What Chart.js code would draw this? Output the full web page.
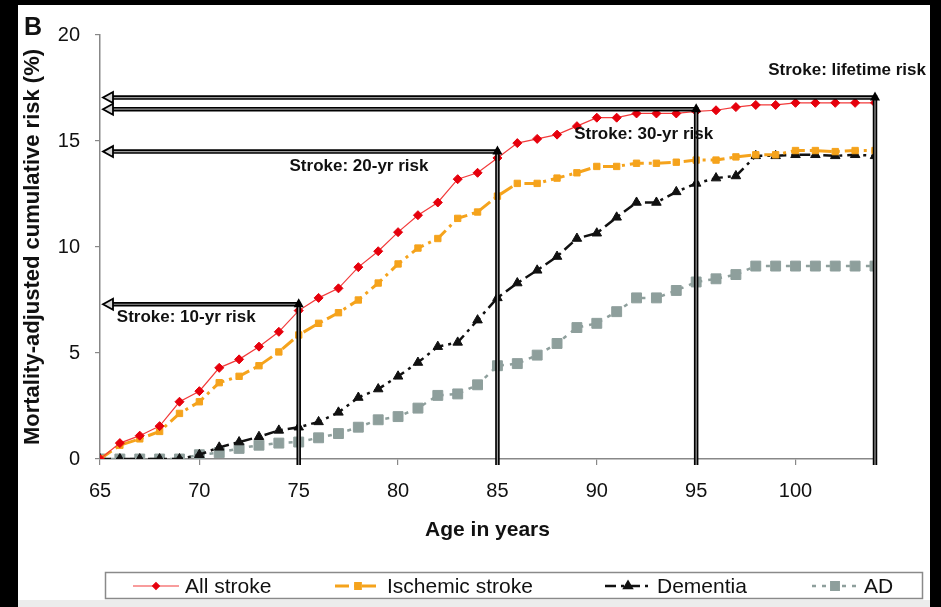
<!DOCTYPE html>
<html>
<head>
<meta charset="utf-8">
<script src="https://cdn.jsdelivr.net/npm/chart.js@4/dist/chart.umd.min.js"></script>
<style>
  html, body { margin: 0; padding: 0; background: #000; }
  canvas { display: block; }
</style>
</head>
<body>
<canvas id="chart" width="941" height="607"></canvas>
<script>
// ages 65..104
const ages = [65, 66, 67, 68, 69, 70, 71, 72, 73, 74, 75, 76, 77, 78, 79, 80, 81, 82, 83, 84,
              85, 86, 87, 88, 89, 90, 91, 92, 93, 94, 95, 96, 97, 98, 99, 100, 101, 102, 103, 104];

const allStroke = [0, 0.75, 1.1, 1.55, 2.7, 3.2, 4.3, 4.7, 5.3, 6.0, 7.0, 7.6, 8.05, 9.05, 9.8, 10.7, 11.5, 12.1, 13.2, 13.5,
                   14.2, 14.9, 15.1, 15.3, 15.7, 16.1, 16.1, 16.3, 16.3, 16.3, 16.4, 16.45, 16.6, 16.7, 16.7, 16.8, 16.8, 16.8, 16.8, 16.8];
const ischemic = [0, 0.65, 0.95, 1.3, 2.15, 2.7, 3.6, 3.9, 4.4, 5.05, 5.85, 6.4, 6.9, 7.5, 8.3, 9.2, 9.95, 10.4, 11.35, 11.65,
                  12.4, 13.0, 13.0, 13.25, 13.5, 13.8, 13.8, 13.95, 13.95, 14.0, 14.1, 14.1, 14.25, 14.35, 14.35, 14.55, 14.55, 14.5, 14.55, 14.55];
const dementia = [0, 0, 0, 0, 0, 0.2, 0.55, 0.8, 1.05, 1.35, 1.5, 1.75, 2.2, 2.9, 3.3, 3.9, 4.55, 5.3, 5.5, 6.55,
                  7.6, 8.3, 8.9, 9.55, 10.4, 10.65, 11.4, 12.1, 12.1, 12.6, 13.0, 13.25, 13.35, 14.3, 14.3, 14.35, 14.35, 14.3, 14.35, 14.3];
const ad = [0, 0, 0, 0, 0, 0.2, 0.3, 0.5, 0.65, 0.75, 0.8, 1.0, 1.2, 1.5, 1.85, 2.0, 2.4, 3.0, 3.07, 3.5,
            4.4, 4.5, 4.9, 5.45, 6.2, 6.4, 6.95, 7.6, 7.6, 7.95, 8.35, 8.5, 8.7, 9.1, 9.1, 9.1, 9.1, 9.1, 9.1, 9.1];

const seriesNames = ['All stroke', 'Ischemic stroke', 'Dementia', 'AD'];
const xTicks = [65, 70, 75, 80, 85, 90, 95, 100];
const yTicks = [0, 5, 10, 15, 20];

// stroke risk arrows: age where the arrow starts, risk it points at
const noteAges = [75, 85, 95, 104];
const noteRisks = [7.3, 14.5, 16.5, 17.05];
const noteLabels = ['Stroke: 10-yr risk', 'Stroke: 20-yr risk', 'Stroke: 30-yr risk', 'Stroke: lifetime risk'];

const FONT = "'Liberation Sans', Arial, sans-serif";
Chart.defaults.font.family = FONT;
Chart.defaults.color = '#111';

const pts = vals => ages.map((a, i) => ({ x: a, y: vals[i] }));

// black frame, white panel, panel letter
const frame = {
  id: 'frame',
  beforeDraw(chart) {
    const c = chart.ctx;
    c.save();
    c.fillStyle = '#000';
    c.fillRect(0, 0, chart.width, chart.height);
    c.fillStyle = '#fff';
    c.fillRect(18, 5, 912, 602);
    c.fillStyle = '#ececec';
    c.fillRect(18, 600, 912, 7);
    c.fillStyle = '#111';
    c.font = 'bold 25px ' + FONT;
    c.textBaseline = 'middle';
    c.fillText('B', 24, 28);
    c.restore();
  }
};

// label offsets from each arrow corner (right edge of text)
const noteOffsets = [[-43, 13], [-69, 15], [17, 25], [51, -27]];

const notes = {
  id: 'notes',
  afterDatasetsDraw(chart) {
    const { ctx, scales: { x, y } } = chart;
    const tip = x.getPixelForValue(65) + 3;
    const yBase = y.getPixelForValue(0) + 6;
    ctx.save();
    noteAges.forEach((age, i) => {
      const px = x.getPixelForValue(age);
      const py = y.getPixelForValue(noteRisks[i]);
      const path = () => {
        ctx.beginPath();
        ctx.moveTo(px, yBase);
        ctx.lineTo(px, py);
        ctx.lineTo(tip + 9, py);
      };
      ctx.lineJoin = 'miter';
      path();
      ctx.strokeStyle = '#000';
      ctx.lineWidth = 4.5;
      ctx.stroke();
      path();
      ctx.strokeStyle = '#9a9a9a';
      ctx.lineWidth = 1.2;
      ctx.stroke();

      // open arrow head pointing at the axis
      ctx.beginPath();
      ctx.moveTo(tip + 10, py - 5.5);
      ctx.lineTo(tip, py);
      ctx.lineTo(tip + 10, py + 5.5);
      ctx.closePath();
      ctx.fillStyle = '#d8d8d8';
      ctx.fill();
      ctx.lineWidth = 1.8;
      ctx.strokeStyle = '#000';
      ctx.stroke();

      // small head at the corner
      ctx.beginPath();
      ctx.moveTo(px, py - 6);
      ctx.lineTo(px - 5, py + 3);
      ctx.lineTo(px + 5, py + 3);
      ctx.closePath();
      ctx.fillStyle = '#000';
      ctx.fill();

      ctx.font = 'bold 17px ' + FONT;
      ctx.textAlign = 'right';
      ctx.textBaseline = 'middle';
      ctx.fillStyle = '#111';
      ctx.fillText(noteLabels[i], px + noteOffsets[i][0], py + noteOffsets[i][1]);
    });
    ctx.restore();
  }
};

// boxed legend along the bottom
const legendX = [133, 335, 605, 812];
const keyBox = {
  id: 'keyBox',
  afterDraw(chart) {
    const ctx = chart.ctx;
    const cy = 586;
    ctx.save();
    ctx.strokeStyle = '#8a8a8a';
    ctx.lineWidth = 1.5;
    ctx.strokeRect(105.5, 572.5, 817, 26);
    chart.data.datasets.forEach((ds, i) => {
      const sx = legendX[i];
      ctx.setLineDash(ds.borderDash || []);
      ctx.strokeStyle = ds.borderColor;
      ctx.lineWidth = ds.borderWidth;
      ctx.beginPath();
      ctx.moveTo(sx, cy);
      ctx.lineTo(sx + 46, cy);
      ctx.stroke();
      ctx.setLineDash([]);
      ctx.fillStyle = ds.pointBackgroundColor;
      ctx.strokeStyle = ds.pointBorderColor;
      Chart.helpers.drawPoint(ctx, { pointStyle: ds.pointStyle, radius: ds.pointRadius * 0.75, rotation: 0, borderWidth: 1 }, sx + 23, cy);
      ctx.font = '21px ' + FONT;
      ctx.fillStyle = '#111';
      ctx.textAlign = 'left';
      ctx.textBaseline = 'middle';
      ctx.fillText(ds.label, sx + 52, cy + 1);
    });
    ctx.restore();
  }
};

new Chart(document.getElementById('chart'), {
  type: 'line',
  data: {
    datasets: [
      {
        label: seriesNames[0], data: pts(allStroke),
        borderColor: '#f23a3a', borderWidth: 1.2,
        pointStyle: 'rectRot', pointRadius: 4.5,
        pointBackgroundColor: '#e6000c', pointBorderColor: '#e6000c', pointBorderWidth: 1
      },
      {
        label: seriesNames[1], data: pts(ischemic),
        borderColor: '#f5a31c', borderWidth: 3, borderDash: [14, 5, 3, 5],
        pointStyle: 'rect', pointRadius: 4.5,
        pointBackgroundColor: '#f5a31c', pointBorderColor: '#f5a31c', pointBorderWidth: 1
      },
      {
        label: seriesNames[2], data: pts(dementia),
        borderColor: '#111', borderWidth: 2.5, borderDash: [11, 5, 3, 5],
        pointStyle: 'triangle', pointRadius: 5.5,
        pointBackgroundColor: '#111', pointBorderColor: '#111', pointBorderWidth: 1
      },
      {
        label: seriesNames[3], data: pts(ad),
        borderColor: '#8e9f9c', borderWidth: 2.5, borderDash: [4, 6],
        pointStyle: 'rect', pointRadius: 7,
        pointBackgroundColor: '#8e9f9c', pointBorderColor: '#8e9f9c', pointBorderWidth: 1
      }
    ]
  },
  options: {
    responsive: false,
    animation: false,
    devicePixelRatio: 1,
    layout: { padding: { top: 35, right: 66, bottom: 40, left: 0 } },
    elements: { line: { tension: 0 } },
    plugins: {
      legend: { display: false },
      tooltip: { enabled: false }
    },
    scales: {
      x: {
        type: 'linear',
        min: 65,
        max: 104,
        afterBuildTicks: s => { s.ticks = xTicks.map(v => ({ value: v })); },
        afterFit: s => { s.height = 108; },
        grid: { drawOnChartArea: false, tickLength: 6, color: '#888', lineWidth: 1.2 },
        border: { color: '#888', width: 1.5 },
        ticks: { font: { size: 20 }, color: '#111', padding: 14, maxRotation: 0 },
        title: { display: true, text: 'Age in years', font: { size: 21, weight: 'bold' }, color: '#111', padding: { top: 0, bottom: 24 } }
      },
      y: {
        min: 0,
        max: 20,
        afterBuildTicks: s => { s.ticks = yTicks.map(v => ({ value: v })); },
        afterFit: s => { s.width = 100; },
        grid: { drawOnChartArea: false, tickLength: 5, color: '#888', lineWidth: 1.2 },
        border: { color: '#888', width: 1.5 },
        ticks: { font: { size: 20 }, color: '#111', padding: 15 },
        title: { display: true, text: 'Mortality-adjusted cumulative risk (%)', font: { size: 22, weight: 'bold' }, color: '#111', padding: { top: 20, bottom: 0 } }
      }
    }
  },
  plugins: [frame, notes, keyBox]
});
</script>
</body>
</html>
